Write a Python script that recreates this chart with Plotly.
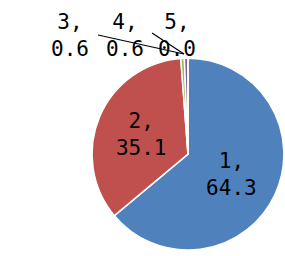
import plotly.graph_objects as go

categories = ["1", "2", "3", "4", "5"]
values = [64.3, 35.1, 0.6, 0.6, 0.0]
colors = ["#4F81BD", "#C0504D", "#9BBB59", "#8064A2", "#4BACC6"]

FONT = "DejaVu Sans Mono"

texts = [f"{c},<br>{v:.1f}" for c, v in zip(categories, values)]
inside_text = [t if i < 2 else "" for i, t in enumerate(texts)]

fig = go.Figure(go.Pie(
    labels=categories,
    values=values,
    sort=False,
    direction="clockwise",
    rotation=0,
    text=inside_text,
    textinfo="text",
    textposition="inside",
    insidetextorientation="horizontal",
    textfont=dict(family=FONT, size=21, color="#000000"),
    marker=dict(colors=colors, line=dict(color="#FFFFFF", width=1.5)),
    domain=dict(x=[0.323, 0.996], y=[0.023, 0.773]),
    showlegend=False,
    hoverinfo="label+value",
))

# outside labels for the small slices
label_pos = [(70, 35), (125, 35), (177, 35)]
for i in range(2, 5):
    x, y = label_pos[i - 2]
    fig.add_annotation(
        x=x / 285, y=1 - y / 256, xref="paper", yref="paper",
        xanchor="center", yanchor="middle",
        text=texts[i], showarrow=False,
        font=dict(family=FONT, size=21, color="#000000"),
        align="center",
    )
# leader lines
for (x0, y0) in [(98, 35), (152, 33)]:
    fig.add_shape(type="line", xref="paper", yref="paper",
                  x0=x0 / 285, y0=1 - y0 / 256, x1=184 / 285, y1=1 - 54 / 256,
                  line=dict(color="#000000", width=1.2))

fig.update_layout(
    width=285, height=256,
    margin=dict(l=0, r=0, t=0, b=0),
    paper_bgcolor="#FFFFFF",
    plot_bgcolor="#FFFFFF",
    uniformtext=dict(minsize=21, mode="show"),
)

fig.write_html("out.html", config={"displayModeBar": False},
               post_script="document.body.style.margin='0';")
